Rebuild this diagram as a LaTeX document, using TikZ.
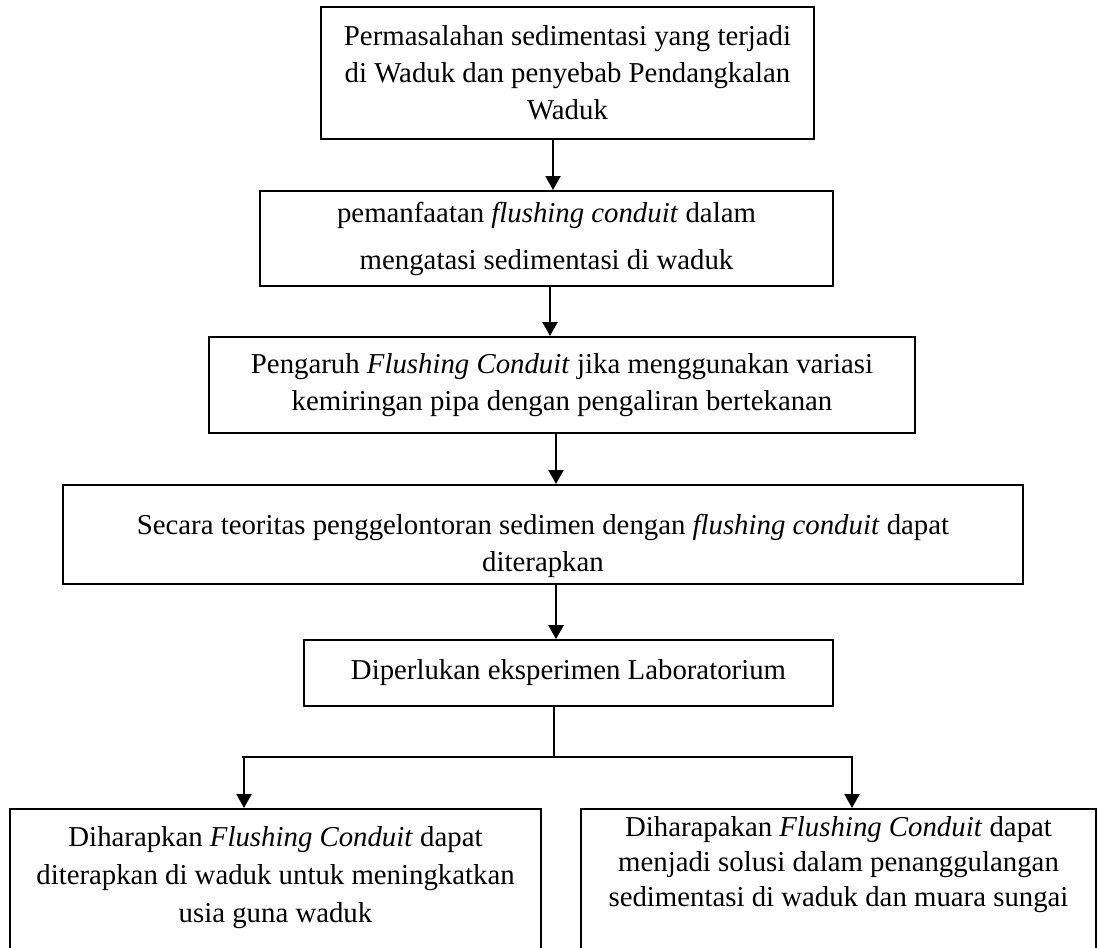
\documentclass[tikz,border=0pt]{standalone}
\usepackage{fontspec}
\setmainfont{Liberation Serif}
\usetikzlibrary{arrows.meta}
\begin{document}
\begin{tikzpicture}[x=0.75pt,y=-0.75pt,
  box/.style={draw=black, line width=1.5pt, inner sep=0pt, align=center, font=\fontsize{21.6}{27.75}\selectfont},
  txt/.style={inner sep=0pt, align=center, font=\fontsize{21.6}{27.75}\selectfont},
  arr/.style={line width=1.5pt, -{Triangle[length=10.5pt,width=11.25pt]}},
  thinline/.style={line width=1.1pt}]
\useasboundingbox (0,0) rectangle (1098,947);
\clip (0,0) rectangle (1098,947);
\node[box, minimum width=369.75pt, minimum height=99pt] (B1) at (567.5,73)
  {Permasalahan sedimentasi yang terjadi\\ di Waduk dan penyebab Pendangkalan\\ Waduk};
\node[box, minimum width=429.75pt, minimum height=71.25pt, font=\fontsize{21.6}{35.25}\selectfont] (B2) at (546.5,238.5)
  {pemanfaatan \textit{flushing conduit} dalam\\ mengatasi sedimentasi di waduk};
\node[box, minimum width=529.5pt, minimum height=72pt] (B3) at (562,385)
  {Pengaruh \textit{Flushing Conduit} jika menggunakan variasi\\ kemiringan pipa dengan pengaliran bertekanan};
\node[box, minimum width=720pt, minimum height=74.25pt] (B4) at (543,534.5) {};
\node[txt] (B4t) at (543,546) {Secara teoritas penggelontoran sedimen dengan \textit{flushing conduit} dapat\\ diterapkan};
\node[box, line width=1.2pt, minimum width=396.75pt, minimum height=49.5pt] (B5) at (568.5,673)
  {Diperlukan eksperimen Laboratorium};
\node[box, minimum width=398.25pt, minimum height=108pt] (B6) at (275.5,881) {};
\node[txt, font=\fontsize{21.6}{28.5}\selectfont] (B6t) at (275.5,878)
  {Diharapkan \textit{Flushing Conduit} dapat\\ diterapkan di waduk untuk meningkatkan\\ usia guna waduk};
\node[box, minimum width=386.25pt, minimum height=108pt] (B7) at (838.5,881) {};
\node[txt, font=\fontsize{21.6}{26.25}\selectfont] (B7t) at (838.5,865)
  {Diharapakan \textit{Flushing Conduit} dapat\\ menjadi solusi dalam penanggulangan\\ sedimentasi di waduk dan muara sungai};
\coordinate (a1) at (553,0);
\coordinate (a2) at (550,0);
\coordinate (a3) at (556,0);
\coordinate (a4) at (556,0);
\coordinate (j) at (554,757);
\coordinate (jl) at (242,757);
\coordinate (jr) at (853,757);
\coordinate (al) at (244,757);
\coordinate (ar) at (852,757);
\draw[arr] (a1 |- B1.south) -- (a1 |- B2.north);
\draw[arr] (a2 |- B2.south) -- (a2 |- B3.north);
\draw[arr] (a3 |- B3.south) -- (a3 |- B4.north);
\draw[arr] (a4 |- B4.south) -- (a4 |- B5.north);
\draw[thinline] (j |- B5.south) -- (j);
\draw[thinline] (jl) -- (jr);
\draw[arr] (al) -- (al |- B6.north);
\draw[arr] (ar) -- (ar |- B7.north);
\end{tikzpicture}
\end{document}
